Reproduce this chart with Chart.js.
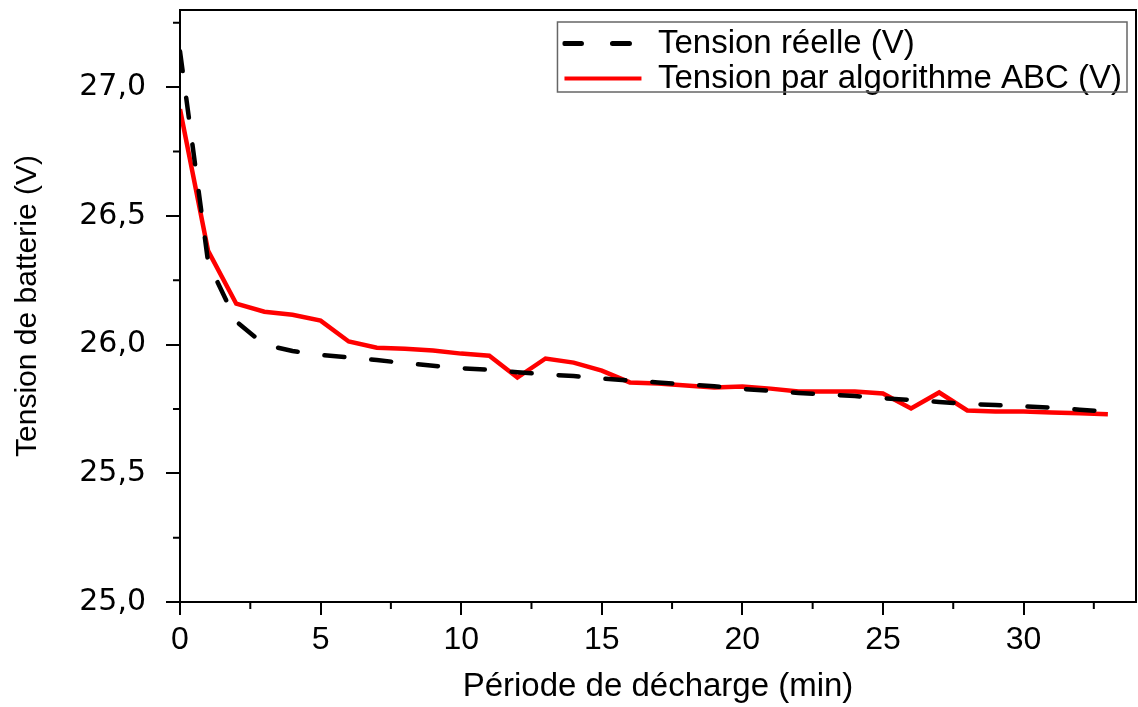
<!DOCTYPE html>
<html lang="fr">
<head>
<meta charset="utf-8">
<title>Tension de batterie</title>
<script src="https://cdn.jsdelivr.net/npm/chart.js@4.4.1/dist/chart.umd.min.js"></script>
<style>
  html, body { margin: 0; padding: 0; background: #fff; }
  #wrap { position: relative; width: 1138px; height: 707px; }
</style>
</head>
<body>
<div id="wrap"><canvas id="tensionChart"></canvas></div>
<script>
// Données (minutes de décharge, tensions en V)
const minutes = [0, 1, 2, 3, 4, 5, 6, 7, 8, 9, 10, 11, 12, 13, 14, 15, 16,
                 17, 18, 19, 20, 21, 22, 23, 24, 25, 26, 27, 28, 29, 30, 31, 32, 33];
const tensionReelle = [27.14, 26.32, 26.09, 26.00, 25.975, 25.96, 25.95, 25.94, 25.928, 25.918,
                       25.908, 25.902, 25.893, 25.884, 25.878, 25.868, 25.86, 25.853, 25.845, 25.838,
                       25.828, 25.82, 25.812, 25.806, 25.80, 25.792, 25.785, 25.777, 25.77, 25.765,
                       25.76, 25.755, 25.747, 25.74];
const tensionABC = [26.915, 26.364, 26.159, 26.128, 26.116, 26.093, 26.012, 25.988, 25.984, 25.977,
                    25.965, 25.957, 25.872, 25.946, 25.930, 25.899, 25.853, 25.849, 25.841, 25.833,
                    25.837, 25.829, 25.818, 25.818, 25.818, 25.810, 25.752, 25.814, 25.744, 25.740,
                    25.740, 25.736, 25.733, 25.729];
const minorTicksX = [2.5, 7.5, 12.5, 17.5, 22.5, 27.5, 32.5];
const minorTicksY = [25.25, 25.75, 26.25, 26.75, 27.25];

const pointsReelle = minutes.map((m, i) => ({ x: m, y: tensionReelle[i] }));
const pointsABC = minutes.map((m, i) => ({ x: m, y: tensionABC[i] }));

// cadre, petites graduations et position de la légende
const cadrePlugin = {
    id: 'cadre',
    afterLayout(chart) {
        const lg = chart.legend;
        const area = chart.chartArea;
        if (lg) {
            lg.left = area.right - lg.width - 4;
            lg.top = area.top + 15;
        }
    },
    afterDraw(chart) {
        const ctx = chart.ctx;
        const area = chart.chartArea;
        const xs = chart.scales.x;
        const ys = chart.scales.y;
        ctx.save();
        ctx.strokeStyle = '#000';
        ctx.lineWidth = 2;
        ctx.strokeRect(area.left, area.top, area.right - area.left, area.bottom - area.top);
        ctx.beginPath();
        minorTicksX.forEach(v => {
            const px = xs.getPixelForValue(v);
            ctx.moveTo(px, area.bottom);
            ctx.lineTo(px, area.bottom + 7);
        });
        minorTicksY.forEach(v => {
            const py = ys.getPixelForValue(v);
            ctx.moveTo(area.left, py);
            ctx.lineTo(area.left - 7, py);
        });
        ctx.stroke();
        // boîte de la légende
        const lg = chart.legend;
        if (lg) {
            ctx.strokeStyle = '#666';
            ctx.lineWidth = 1.5;
            ctx.strokeRect(lg.left - 5, lg.top - 3, lg.width, 70);
        }
        ctx.restore();
    }
};

const ctx = document.getElementById('tensionChart').getContext('2d');

new Chart(ctx, {
    type: 'line',
    data: {
        datasets: [
            {
                label: 'Tension réelle (V)',
                data: pointsReelle,
                borderColor: '#000000',
                backgroundColor: '#000000',
                borderWidth: 4.5,
                borderDash: [20, 27],
                borderCapStyle: 'round',
                pointRadius: 0,
                tension: 0
            },
            {
                label: 'Tension par algorithme ABC (V)',
                data: pointsABC,
                borderColor: '#ff0000',
                backgroundColor: '#ff0000',
                borderWidth: 4.5,
                borderJoinStyle: 'miter',
                pointRadius: 0,
                tension: 0
            }
        ]
    },
    options: {
        responsive: true,
        maintainAspectRatio: false,
        animation: false,
        layout: { padding: { left: 0, top: 10, right: 2, bottom: 0 } },
        plugins: {
            legend: {
                display: true,
                position: 'chartArea',
                align: 'start',
                labels: {
                    usePointStyle: true,
                    pointStyle: 'line',
                    pointStyleWidth: 77,
                    boxHeight: 33,
                    padding: 2,
                    color: '#000',
                    font: { family: "'Liberation Sans', Arial, sans-serif", size: 33 },
                    generateLabels: (chart) => {
                        const items = Chart.defaults.plugins.legend.labels.generateLabels(chart);
                        items.forEach(item => {
                            const ds = chart.data.datasets[item.datasetIndex];
                            item.lineWidth = ds.borderDash ? 5 : 4;
                            item.strokeStyle = ds.borderColor;
                            item.lineCap = ds.borderDash ? 'round' : 'butt';
                            item.lineDash = ds.borderDash ? [17, 31] : [];
                        });
                        return items;
                    }
                }
            },
            tooltip: { enabled: false }
        },
        scales: {
            x: {
                type: 'linear',
                min: 0,
                max: 34,
                afterFit: (scale) => {
                    scale.height = 105;
                    scale.paddingLeft = 0;
                    scale.paddingRight = 0;
                },
                border: { display: true, color: '#000', width: 2 },
                grid: { drawOnChartArea: false, drawTicks: true, tickLength: 13, color: '#000', lineWidth: 2 },
                ticks: {
                    stepSize: 5,
                    includeBounds: false,
                    padding: 6,
                    maxRotation: 0,
                    color: '#000',
                    font: { family: "'Liberation Sans', Arial, sans-serif", size: 32 },
                    callback: (value) => String(value)
                },
                title: {
                    display: true,
                    text: 'Période de décharge (min)',
                    color: '#000',
                    padding: { top: 0, bottom: 0 },
                    font: { family: "'Liberation Sans', Arial, sans-serif", size: 33 }
                }
            },
            y: {
                min: 25,
                max: 27.3,
                afterFit: (scale) => {
                    scale.width = 180;
                    scale.paddingTop = 0;
                    scale.paddingBottom = 0;
                },
                border: { display: true, color: '#000', width: 2 },
                grid: { drawOnChartArea: false, drawTicks: true, tickLength: 14, color: '#000', lineWidth: 2 },
                ticks: {
                    stepSize: 0.5,
                    includeBounds: false,
                    padding: 20,
                    color: '#000',
                    font: { family: "'DejaVu Sans', Verdana, sans-serif", size: 30 },
                    callback: (value) => value.toFixed(1).replace('.', ',')
                },
                title: {
                    display: true,
                    text: 'Tension de batterie (V)',
                    color: '#000',
                    padding: { top: 10, bottom: 0 },
                    font: { family: "'Liberation Sans', Arial, sans-serif", size: 30 }
                }
            }
        }
    },
    plugins: [cadrePlugin]
});
</script>
</body>
</html>
